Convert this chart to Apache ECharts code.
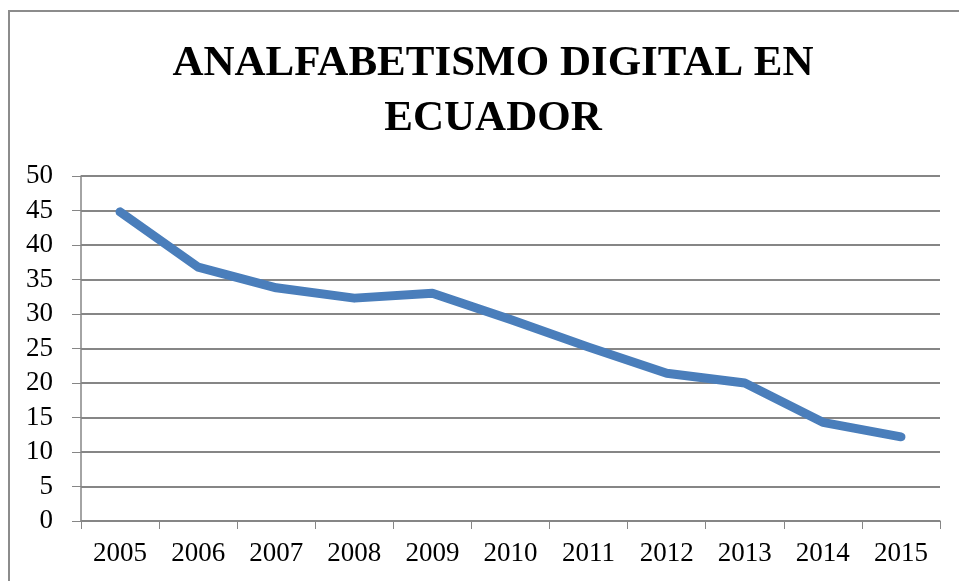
<!DOCTYPE html>
<html><head><meta charset="utf-8">
<script src="https://cdn.jsdelivr.net/npm/echarts@6/dist/echarts.min.js"></script>
<style>html,body{margin:0;padding:0;background:#fff}#c{width:959px;height:581px}</style>
</head><body><div id="c"></div>
<script>
const categories = ['2005','2006','2007','2008','2009','2010','2011','2012','2013','2014','2015'];
const values = [44.8, 36.8, 33.8, 32.3, 33.0, 29.2, 25.2, 21.4, 20.0, 14.3, 12.2];
const titleText = 'ANALFABETISMO DIGITAL EN\nECUADOR';
const chart = echarts.init(document.getElementById('c'), null, {renderer:'canvas'});
const font = '"Liberation Serif", "DejaVu Serif", serif';
chart.setOption({
  backgroundColor:'#fff',
  animation:false,
  graphic:[{type:'rect', shape:{x:9,y:11,width:960,height:580}, style:{fill:'none', stroke:'#8c8c8c', lineWidth:2}, silent:true}],
  title:{text:titleText, left:488, textAlign:'center', top:31,
    textStyle:{fontFamily:font, fontWeight:'bold', fontSize:43, color:'#000', lineHeight:55}},
  grid:{left:81, right:19, top:176, bottom:60, containLabel:false},
  xAxis:{type:'category', data:categories, boundaryGap:true,
    axisLine:{lineStyle:{color:'#868686', width:1.5}},
    axisTick:{show:true, length:8, lineStyle:{color:'#868686'}},
    axisLabel:{fontFamily:font, fontSize:27, color:'#000', margin:19},
    splitLine:{show:false}},
  yAxis:{type:'value', min:0, max:50, interval:5,
    axisLine:{show:true, lineStyle:{color:'#868686', width:1.5}},
    axisTick:{show:true, length:9, lineStyle:{color:'#868686'}},
    axisLabel:{fontFamily:font, fontSize:27, color:'#000', margin:28},
    splitLine:{show:true, lineStyle:{color:'#868686', width:2}}},
  series:[{type:'line', data:values, showSymbol:false, symbol:'none',
    lineStyle:{color:'#4A7EBB', width:9, cap:'round', join:'round'}}]
});
</script></body></html>
